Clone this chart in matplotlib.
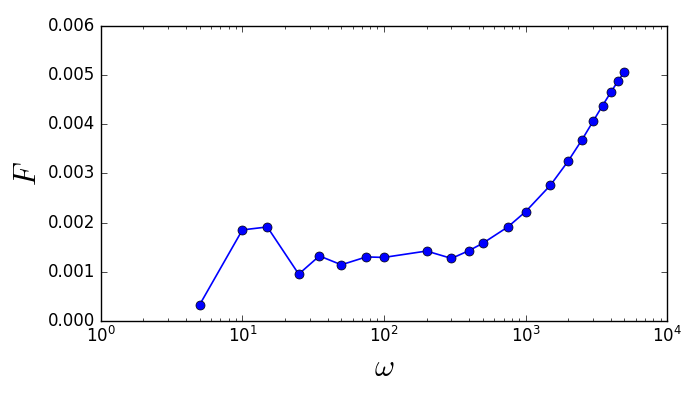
import matplotlib
matplotlib.use("Agg")
import matplotlib.pyplot as plt

# omega values and the measured F
omega = [5, 10, 15, 25, 35, 50, 75, 100, 200, 300, 400, 500, 750,
         1000, 1500, 2000, 2500, 3000, 3500, 4000, 4500, 5000]
F = [0.00033, 0.00185, 0.00191, 0.00095, 0.00132, 0.00114, 0.00130,
     0.00129, 0.00142, 0.00127, 0.00143, 0.00158, 0.00191,
     0.00222, 0.00276, 0.00325, 0.00368, 0.00406, 0.00438,
     0.00465, 0.00488, 0.00507]

plt.style.use('classic')
fig = plt.figure(figsize=(7, 4), dpi=100)
ax = fig.add_axes([0.144, 0.198, 0.809, 0.737])

ax.plot(omega, F, 'o-', color='b', markersize=6.5, linewidth=1.2)
ax.set_xscale('log')
ax.set_xlim(1, 1e4)
ax.set_ylim(0, 0.006)
ax.set_xlabel(r'$\omega$', fontsize=22)
ax.set_ylabel(r'$F$', fontsize=22, labelpad=4)
ax.tick_params(labelsize=12)

fig.savefig('out.png', dpi=100, facecolor='white')
